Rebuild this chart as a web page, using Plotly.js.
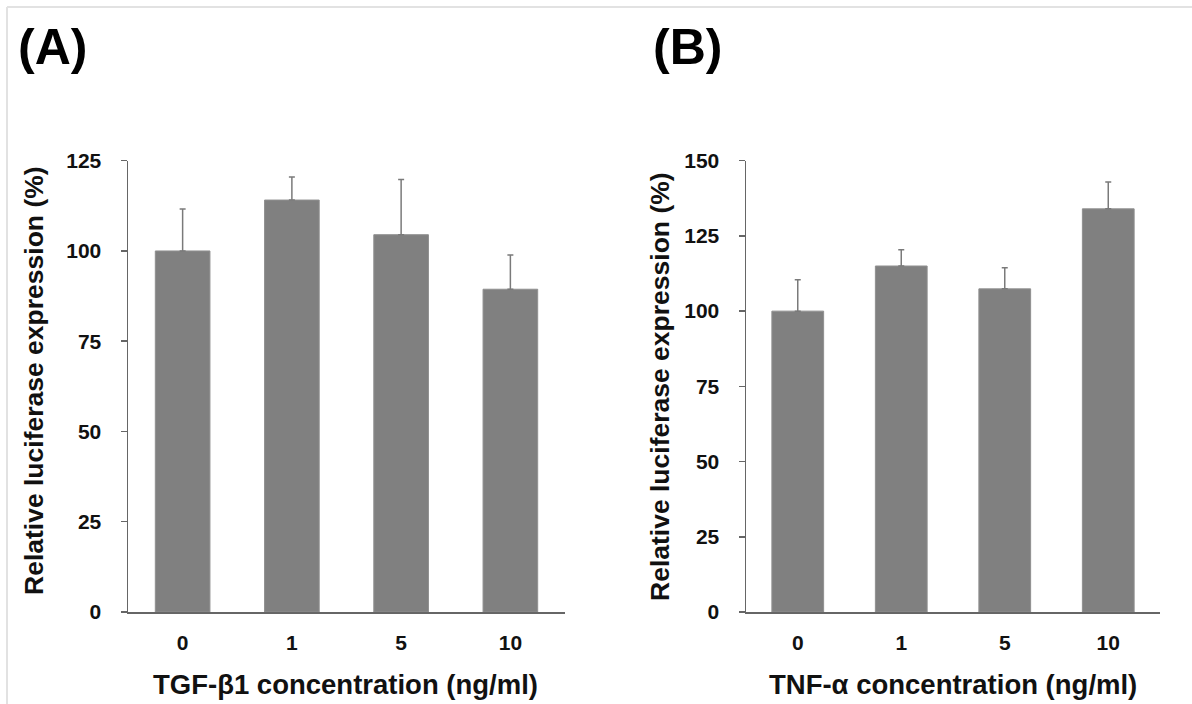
<!DOCTYPE html>
<html>
<head>
<meta charset="utf-8">
<script src="https://cdn.plot.ly/plotly-3.0.1.min.js"></script>
<style>html,body{margin:0;padding:0;background:#fff;}#chart{width:1192px;height:704px;}</style>
</head>
<body>
<div id="chart"></div>
<script>
var categories = ['0', '1', '5', '10'];
var tgfMeans = [100, 114.1, 104.5, 89.4];
var tgfErr = [11.6, 6.4, 15.3, 9.5];
var tnfMeans = [100, 115, 107.4, 134];
var tnfErr = [10.4, 5.4, 7.0, 8.9];
var panelLabels = ['(A)', '(B)'];
var xTitles = ['TGF-β1 concentration (ng/ml)', 'TNF-α concentration (ng/ml)'];
var yTitle = 'Relative luciferase expression (%)';

var W = 1192, H = 704;
var FONT = 'Liberation Sans, Arial, sans-serif';
var barColor = '#808080';
var zeros = categories.map(function(){return 0;});

function barTrace(means, errs, xa, ya) {
  return {
    type: 'bar', x: categories, y: means, xaxis: xa, yaxis: ya,
    width: 0.5,
    marker: {color: barColor, line: {color: '#8f8f8f', width: 1}},
    error_y: {type: 'data', symmetric: false, array: errs, arrayminus: zeros,
              color: '#7a7a7a', thickness: 1.5, width: 3},
    hoverinfo: 'none', showlegend: false
  };
}

var yDom = [1 - 612 / H, 1 - 160.7 / H];
function xAxis(d) {
  return {domain: d, type: 'category', range: [-0.5, 3.5], showline: true, linecolor: '#666', linewidth: 1.5,
          ticks: '', showgrid: false, zeroline: false, ticklabelstandoff: 11,
          tickfont: {family: FONT, size: 21, color: '#111', weight: 'bold'}};
}
function yAxis(r, anchor) {
  return {domain: yDom, range: r, dtick: 25, tick0: 0, anchor: anchor, showline: true, linecolor: '#666', linewidth: 1.5,
          ticks: 'outside', ticklen: 6, tickwidth: 1.5, tickcolor: '#666', showgrid: false, zeroline: false,
          ticklabelstandoff: 15,
          tickfont: {family: FONT, size: 21, color: '#111', weight: 'bold'}};
}

var layout = {
  width: W, height: H, margin: {l: 0, r: 0, t: 0, b: 0},
  paper_bgcolor: '#fff', plot_bgcolor: '#fff',
  bargap: 0.5,
  xaxis: Object.assign(xAxis([128 / W, 565 / W]), {anchor: 'y'}),
  yaxis: yAxis([0, 125], 'x'),
  xaxis2: Object.assign(xAxis([746 / W, 1160 / W]), {anchor: 'y2'}),
  yaxis2: yAxis([0, 150], 'x2'),
  shapes: [
    {type: 'line', xref: 'paper', yref: 'paper', x0: 7 / W, x1: 1, y0: 1 - 7 / H, y1: 1 - 7 / H, line: {color: '#e2e2e2', width: 2}},
    {type: 'line', xref: 'paper', yref: 'paper', x0: 7 / W, x1: 7 / W, y0: 0, y1: 1 - 7 / H, line: {color: '#e2e2e2', width: 2}}
  ],
  annotations: [
    {text: panelLabels[0], xref: 'paper', yref: 'paper', x: 52 / W, y: 1 - 47 / H, xanchor: 'center', yanchor: 'middle', showarrow: false,
     font: {family: FONT, size: 50, color: '#000', weight: 'bold'}},
    {text: panelLabels[1], xref: 'paper', yref: 'paper', x: 687 / W, y: 1 - 47 / H, xanchor: 'center', yanchor: 'middle', showarrow: false,
     font: {family: FONT, size: 50, color: '#000', weight: 'bold'}},
    {text: xTitles[0], xref: 'paper', yref: 'paper', x: 345 / W, y: 1 - 684 / H, xanchor: 'center', yanchor: 'middle', showarrow: false,
     font: {family: FONT, size: 27.5, color: '#111', weight: 'bold'}},
    {text: xTitles[1], xref: 'paper', yref: 'paper', x: 953 / W, y: 1 - 684 / H, xanchor: 'center', yanchor: 'middle', showarrow: false,
     font: {family: FONT, size: 27.5, color: '#111', weight: 'bold'}},
    {text: yTitle, xref: 'paper', yref: 'paper', x: 34 / W, y: 1 - 381 / H, xanchor: 'center', yanchor: 'middle', showarrow: false, textangle: -90,
     font: {family: FONT, size: 26.5, color: '#111', weight: 'bold'}},
    {text: yTitle, xref: 'paper', yref: 'paper', x: 660 / W, y: 1 - 387 / H, xanchor: 'center', yanchor: 'middle', showarrow: false, textangle: -90,
     font: {family: FONT, size: 26.5, color: '#111', weight: 'bold'}}
  ]
};

Plotly.newPlot('chart', [barTrace(tgfMeans, tgfErr, 'x', 'y'), barTrace(tnfMeans, tnfErr, 'x2', 'y2')], layout, {displayModeBar: false, staticPlot: true});
</script>
</body>
</html>
